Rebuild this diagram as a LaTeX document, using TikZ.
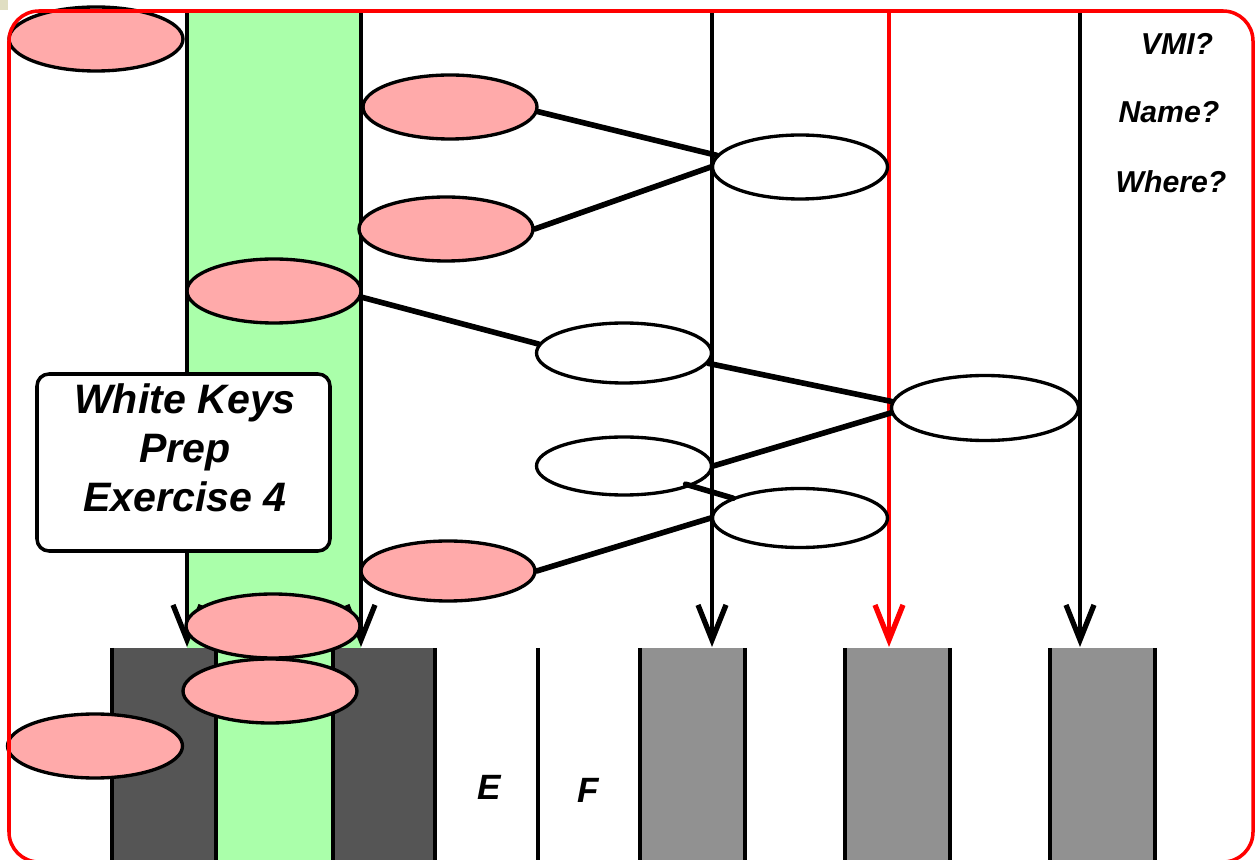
\documentclass[tikz,border=0pt]{standalone}
\usepackage{fontspec}
\setmainfont{Liberation Sans}
\usetikzlibrary{shapes.geometric,arrows.meta,calc}
\definecolor{pinkfill}{RGB}{255,170,170}
\definecolor{greenfill}{RGB}{170,255,170}
\definecolor{darkkey}{RGB}{85,85,85}
\definecolor{greykey}{RGB}{145,145,145}
\definecolor{cornertab}{RGB}{224,222,194}
\tikzset{
  >={Straight Barb[length=3.5mm,width=2.8mm,line width=1.5pt]},
  player/.style = {
    ellipse, draw, line width=0.95pt, inner sep=0pt,
    minimum width=17.4mm, minimum height=6.4mm
  },
  seeded/.style = {player, fill=pinkfill},
  blank/.style = {player, fill=white},
  link/.style = {line width=1.6pt, line cap=round},
  drop/.style = {line width=1.2pt, ->},
  keyedge/.style = {line width=1.2pt},
  caption/.style = {font=\fontsize{8.6}{10}\selectfont\bfseries\itshape},
  keyname/.style = {font=\fontsize{10}{12}\selectfont\bfseries\itshape},
  titlebox/.style = {
    draw, fill=white, line width=1pt, rounded corners=1.2mm,
    minimum width=29.3mm, minimum height=17.7mm
  }
}

\begin{document}
\begin{tikzpicture}[x=0.1mm,y=-0.1mm]
  \useasboundingbox (0,0) rectangle (1257,860);
  \fill[cornertab] (0,0) rectangle (8,10);
  % the lane down to the played keys
  \fill[greenfill] (187,10) rectangle (361,648);
  \fill[greenfill] (216,648) rectangle (333,870);
  % keys
  \foreach \l/\r/\c in {112/216/darkkey, 333/435/darkkey, 640/745/greykey,
                        845/950/greykey, 1050/1155/greykey}
    \fill[\c] (\l,648) rectangle (\r,870);
  \foreach \x in {112,216,333,435,538,640,745,845,950,1050,1155}
    \draw[keyedge] (\x,648) -- (\x,870);
  \node[keyname] (keyE) at (489,787) {E};
  \node[keyname] (keyF) at (588,790) {F};
  % rounds, falling onto the keys
  \foreach \x/\c [count=\i] in {187/black, 361/black, 712/black, 889/red, 1080/black} {
    \coordinate (top\i) at (\x,11);
    \coordinate (hit\i) at (\x,647);
    \draw[drop,\c] (top\i) -- (hit\i);
  }
  \node[seeded] (p1) at (96,39) {};
  \node[seeded] (p2) at (450,107) {};
  \node[seeded] (p3) at (446,229) {};
  \node[seeded] (p4) at (274,291) {};
  \node[seeded,minimum height=6mm] (p5) at (448,571) {};
  \node[seeded] (p6) at (273,626) {};
  \node[seeded] (p7) at (270,691) {};
  \node[seeded,minimum width=17.5mm] (p8) at (95,746) {};
  \node[blank,minimum width=17.5mm] (A) at (800,167) {};
  \node[blank,minimum width=17.5mm,minimum height=6mm] (B) at (624,353) {};
  \node[blank,minimum width=18.7mm,minimum height=6.5mm] (C) at (985,408) {};
  \node[blank,minimum width=17.5mm,minimum height=5.8mm] (D) at (624,466) {};
  \node[blank,minimum width=17.5mm,minimum height=5.9mm] (E) at (800,518) {};
  \draw[link] (p2.-3) -- (A.172);
  \draw[link] (p3.east) -- (A.west);
  \draw[link] (p4.-4) -- (B.174);
  \draw[link] (B.-7) -- (C.176);
  \draw[link] (D.east) -- (C.183);
  \draw[link] ($(D)!0.35!(E)$) -- ($(D)!0.62!(E)$);
  \draw[link] (p5.east) -- (E.west);
  \node[titlebox] (title) at (183.5,462.5) {};
  \node[align=center, font=\fontsize{11.7}{13.9}\selectfont\bfseries\itshape]
    (titletext) at (185,448) {White Keys\\Prep\\Exercise 4};
  \node[caption] (vmi) at (1177,44) {VMI?};
  \node[caption] (name) at (1169,112) {Name?};
  \node[caption] (where) at (1171,182) {Where?};
  \draw[red, line width=1pt, rounded corners=3mm] (9,11) rectangle (1253,862);
\end{tikzpicture}
\end{document}
